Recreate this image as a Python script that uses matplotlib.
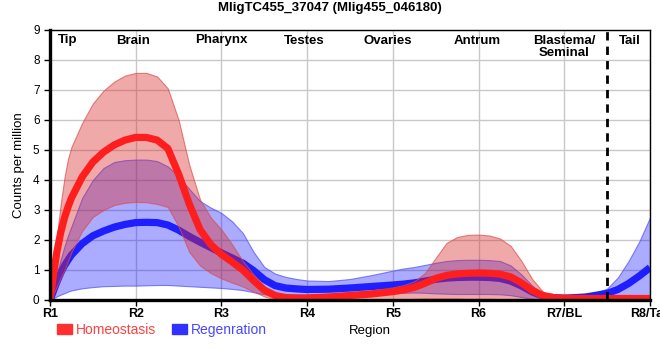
import matplotlib
matplotlib.use("Agg")
import matplotlib.pyplot as plt
from matplotlib.patches import Patch

plt.rcParams['font.family'] = ['Liberation Sans', 'DejaVu Sans']

title = "MligTC455_37047 (Mlig455_046180)"

# positions along the body (1 = R1 ... 8 = R8/Tail)
pos = [1.0, 1.04, 1.08, 1.125, 1.17, 1.21, 1.25,
       1.375, 1.5, 1.625, 1.75, 1.875, 2.0, 2.125, 2.25, 2.375, 2.5, 2.625, 2.75,
       2.875, 3.0, 3.125, 3.25, 3.375, 3.5, 3.625, 3.75, 3.875, 4.0,
       4.25, 4.5, 4.75, 5.0,
       5.125, 5.25, 5.375, 5.5, 5.625, 5.75, 5.875, 6.0, 6.125, 6.25, 6.375, 6.5,
       6.625, 6.75, 6.875, 7.0,
       7.25, 7.5, 7.625, 7.75, 7.875, 8.0]

hom_mean = [0.0, 0.85, 1.6, 2.25, 2.75, 3.1, 3.4,
            4.1, 4.6, 4.93, 5.17, 5.33, 5.42, 5.42, 5.33, 5.05, 4.2, 3.2, 2.35,
            1.85, 1.52, 1.27, 1.0, 0.65, 0.33, 0.15, 0.08, 0.07, 0.07,
            0.1, 0.15, 0.2, 0.28,
            0.34, 0.42, 0.56, 0.72, 0.82, 0.87, 0.89, 0.9, 0.89, 0.86, 0.77, 0.57,
            0.32, 0.15, 0.08, 0.06,
            0.05, 0.05, 0.05, 0.05, 0.05, 0.05]
hom_hi = [0.0, 1.05, 2.1, 3.2, 4.1, 4.7, 5.1,
          5.9, 6.55, 6.98, 7.28, 7.48, 7.57, 7.57, 7.45, 7.05, 6.0, 4.5, 3.35,
          2.75, 2.35, 1.85, 1.3, 0.85, 0.45, 0.25, 0.15, 0.12, 0.12,
          0.18, 0.25, 0.32, 0.42,
          0.5, 0.62, 0.9, 1.4, 1.9, 2.1, 2.17, 2.18, 2.15, 2.05, 1.8, 1.3,
          0.7, 0.28, 0.1, 0.06,
          0.05, 0.05, 0.05, 0.05, 0.05, 0.05]
hom_lo = [0.0, 0.2, 0.45, 0.75, 1.0, 1.3, 1.6,
          2.3, 2.77, 3.0, 3.17, 3.24, 3.27, 3.26, 3.2, 3.1, 2.45, 1.6, 1.15,
          0.9, 0.72, 0.58, 0.45, 0.28, 0.12, 0.02, -0.05, -0.05, -0.05,
          -0.05, -0.05, -0.03, 0.0,
          0.02, 0.04, 0.05, 0.05, 0.05, 0.05, 0.04, 0.04, 0.04, 0.03, 0.0, -0.05,
          -0.1, -0.1, -0.1, -0.1,
          -0.1, -0.1, -0.1, -0.1, -0.1, -0.1]

reg_mean = [0.0, 0.3, 0.6, 0.9, 1.15, 1.33, 1.5,
            1.88, 2.14, 2.3, 2.43, 2.52, 2.58, 2.59, 2.58, 2.5, 2.33, 2.12, 1.93,
            1.75, 1.57, 1.4, 1.23, 0.98, 0.68, 0.48, 0.4, 0.37, 0.35,
            0.36, 0.4, 0.45, 0.5,
            0.53, 0.57, 0.63, 0.69, 0.73, 0.75, 0.76, 0.76, 0.75, 0.72, 0.63, 0.47,
            0.27, 0.13, 0.08, 0.06,
            0.1, 0.22, 0.35, 0.55, 0.8, 1.08]
reg_hi = [0.0, 0.45, 0.9, 1.35, 1.8, 2.15, 2.45,
          3.4, 4.0, 4.4, 4.6, 4.66, 4.68, 4.68, 4.63, 4.45, 4.12, 3.7, 3.3,
          3.08, 2.9, 2.62, 2.23, 1.6, 1.1, 0.88, 0.77, 0.7, 0.65,
          0.63, 0.7, 0.83, 0.98,
          1.05, 1.1, 1.17, 1.24, 1.3, 1.33, 1.34, 1.34, 1.33, 1.3, 1.15, 0.85,
          0.48, 0.2, 0.09, 0.06,
          0.12, 0.38, 0.75, 1.3, 1.95, 2.75]
reg_lo = [0.0, 0.06, 0.12, 0.18, 0.23, 0.28, 0.32,
          0.39, 0.43, 0.46, 0.47, 0.48, 0.48, 0.49, 0.5, 0.5, 0.48, 0.46, 0.44,
          0.42, 0.4, 0.37, 0.33, 0.26, 0.19, 0.15, 0.13, 0.12, 0.12,
          0.13, 0.15, 0.18, 0.22,
          0.24, 0.25, 0.24, 0.22, 0.21, 0.2, 0.2, 0.2, 0.2, 0.19, 0.16, 0.1,
          0.04, 0.01, 0.0, 0.0,
          0.02, 0.05, 0.07, 0.1, 0.12, 0.15]

tick_labels = ["R1", "R2", "R3", "R4", "R5", "R6", "R7/BL", "R8/Tail"]
region_names = ["Tip", "Brain", "Pharynx", "Testes", "Ovaries", "Antrum",
                "Blastema/\nSeminal", "Tail"]
region_x = [1.21, 1.97, 3.0, 3.96, 4.94, 5.99, 7.0, 7.77]

fig = plt.figure(figsize=(6.6, 3.6), dpi=100)
ax = fig.add_axes([50 / 660, 60 / 360, 600 / 660, 270 / 360])

# regeneration first, homeostasis drawn over it
ax.fill_between(pos, reg_lo, reg_hi, facecolor=(0.0, 0.0, 1.0, 0.33),
                edgecolor=(0.3, 0.3, 1.0, 0.7), linewidth=0.8, zorder=2)
ax.plot(pos, reg_mean, color="#1e1eff", linewidth=5.2, zorder=3,
        solid_capstyle="butt", solid_joinstyle="round")
ax.fill_between(pos, hom_lo, hom_hi, facecolor=(0.86, 0.16, 0.16, 0.4),
                edgecolor=(0.86, 0.3, 0.3, 0.7), linewidth=0.8, zorder=4)
ax.plot(pos, hom_mean, color="#ff1e1e", linewidth=5.2, zorder=5,
        solid_capstyle="butt", solid_joinstyle="round")

ax.axvline(7.5, color="black", linewidth=2, linestyle=(0, (3, 2.2)), zorder=6)

ax.set_xlim(1, 8)
ax.set_ylim(0, 9)
ax.set_xticks(range(1, 9))
ax.set_xticklabels(tick_labels, fontsize=9, fontweight="bold")
ax.set_yticks(range(0, 10))
ax.tick_params(axis="y", labelsize=8.5, length=4, width=1)
ax.tick_params(axis="x", length=4, width=1, pad=2)
ax.grid(True, color="#c8c8c8", linewidth=1)
ax.set_axisbelow(True)

for side in ["left", "bottom"]:
    ax.spines[side].set_linewidth(2.4)
for side in ["top", "right"]:
    ax.spines[side].set_linewidth(1)
for sp in ax.spines.values():
    sp.set_zorder(7)

for name, x in zip(region_names, region_x):
    ax.text(x, 8.85, name, ha="center", va="top", fontsize=9.5,
            fontweight="bold", linespacing=1.0, zorder=8)

fig.text(0.5, 0.978, title, ha="center", va="center", fontsize=9.5,
         fontweight="bold")
ax.set_ylabel("Counts per million", fontsize=9.5, labelpad=6)
fig.text(370 / 660, 1 - 331 / 360, "Region", ha="center", va="center", fontsize=9.5)

handles = [Patch(color="#ff3030"), Patch(color="#3030ff")]
leg = fig.legend(handles, ["Homeostasis", "Regenration"], loc="center left",
                 bbox_to_anchor=(47 / 660, 1 - 330 / 360), ncol=2, frameon=False,
                 fontsize=10, handlelength=1.1, handleheight=0.65,
                 handletextpad=0.3, columnspacing=1.1, borderpad=0.2)
for txt, c in zip(leg.get_texts(), ["#ff4040", "#4848ff"]):
    txt.set_color(c)

fig.savefig("out.png", dpi=100)
